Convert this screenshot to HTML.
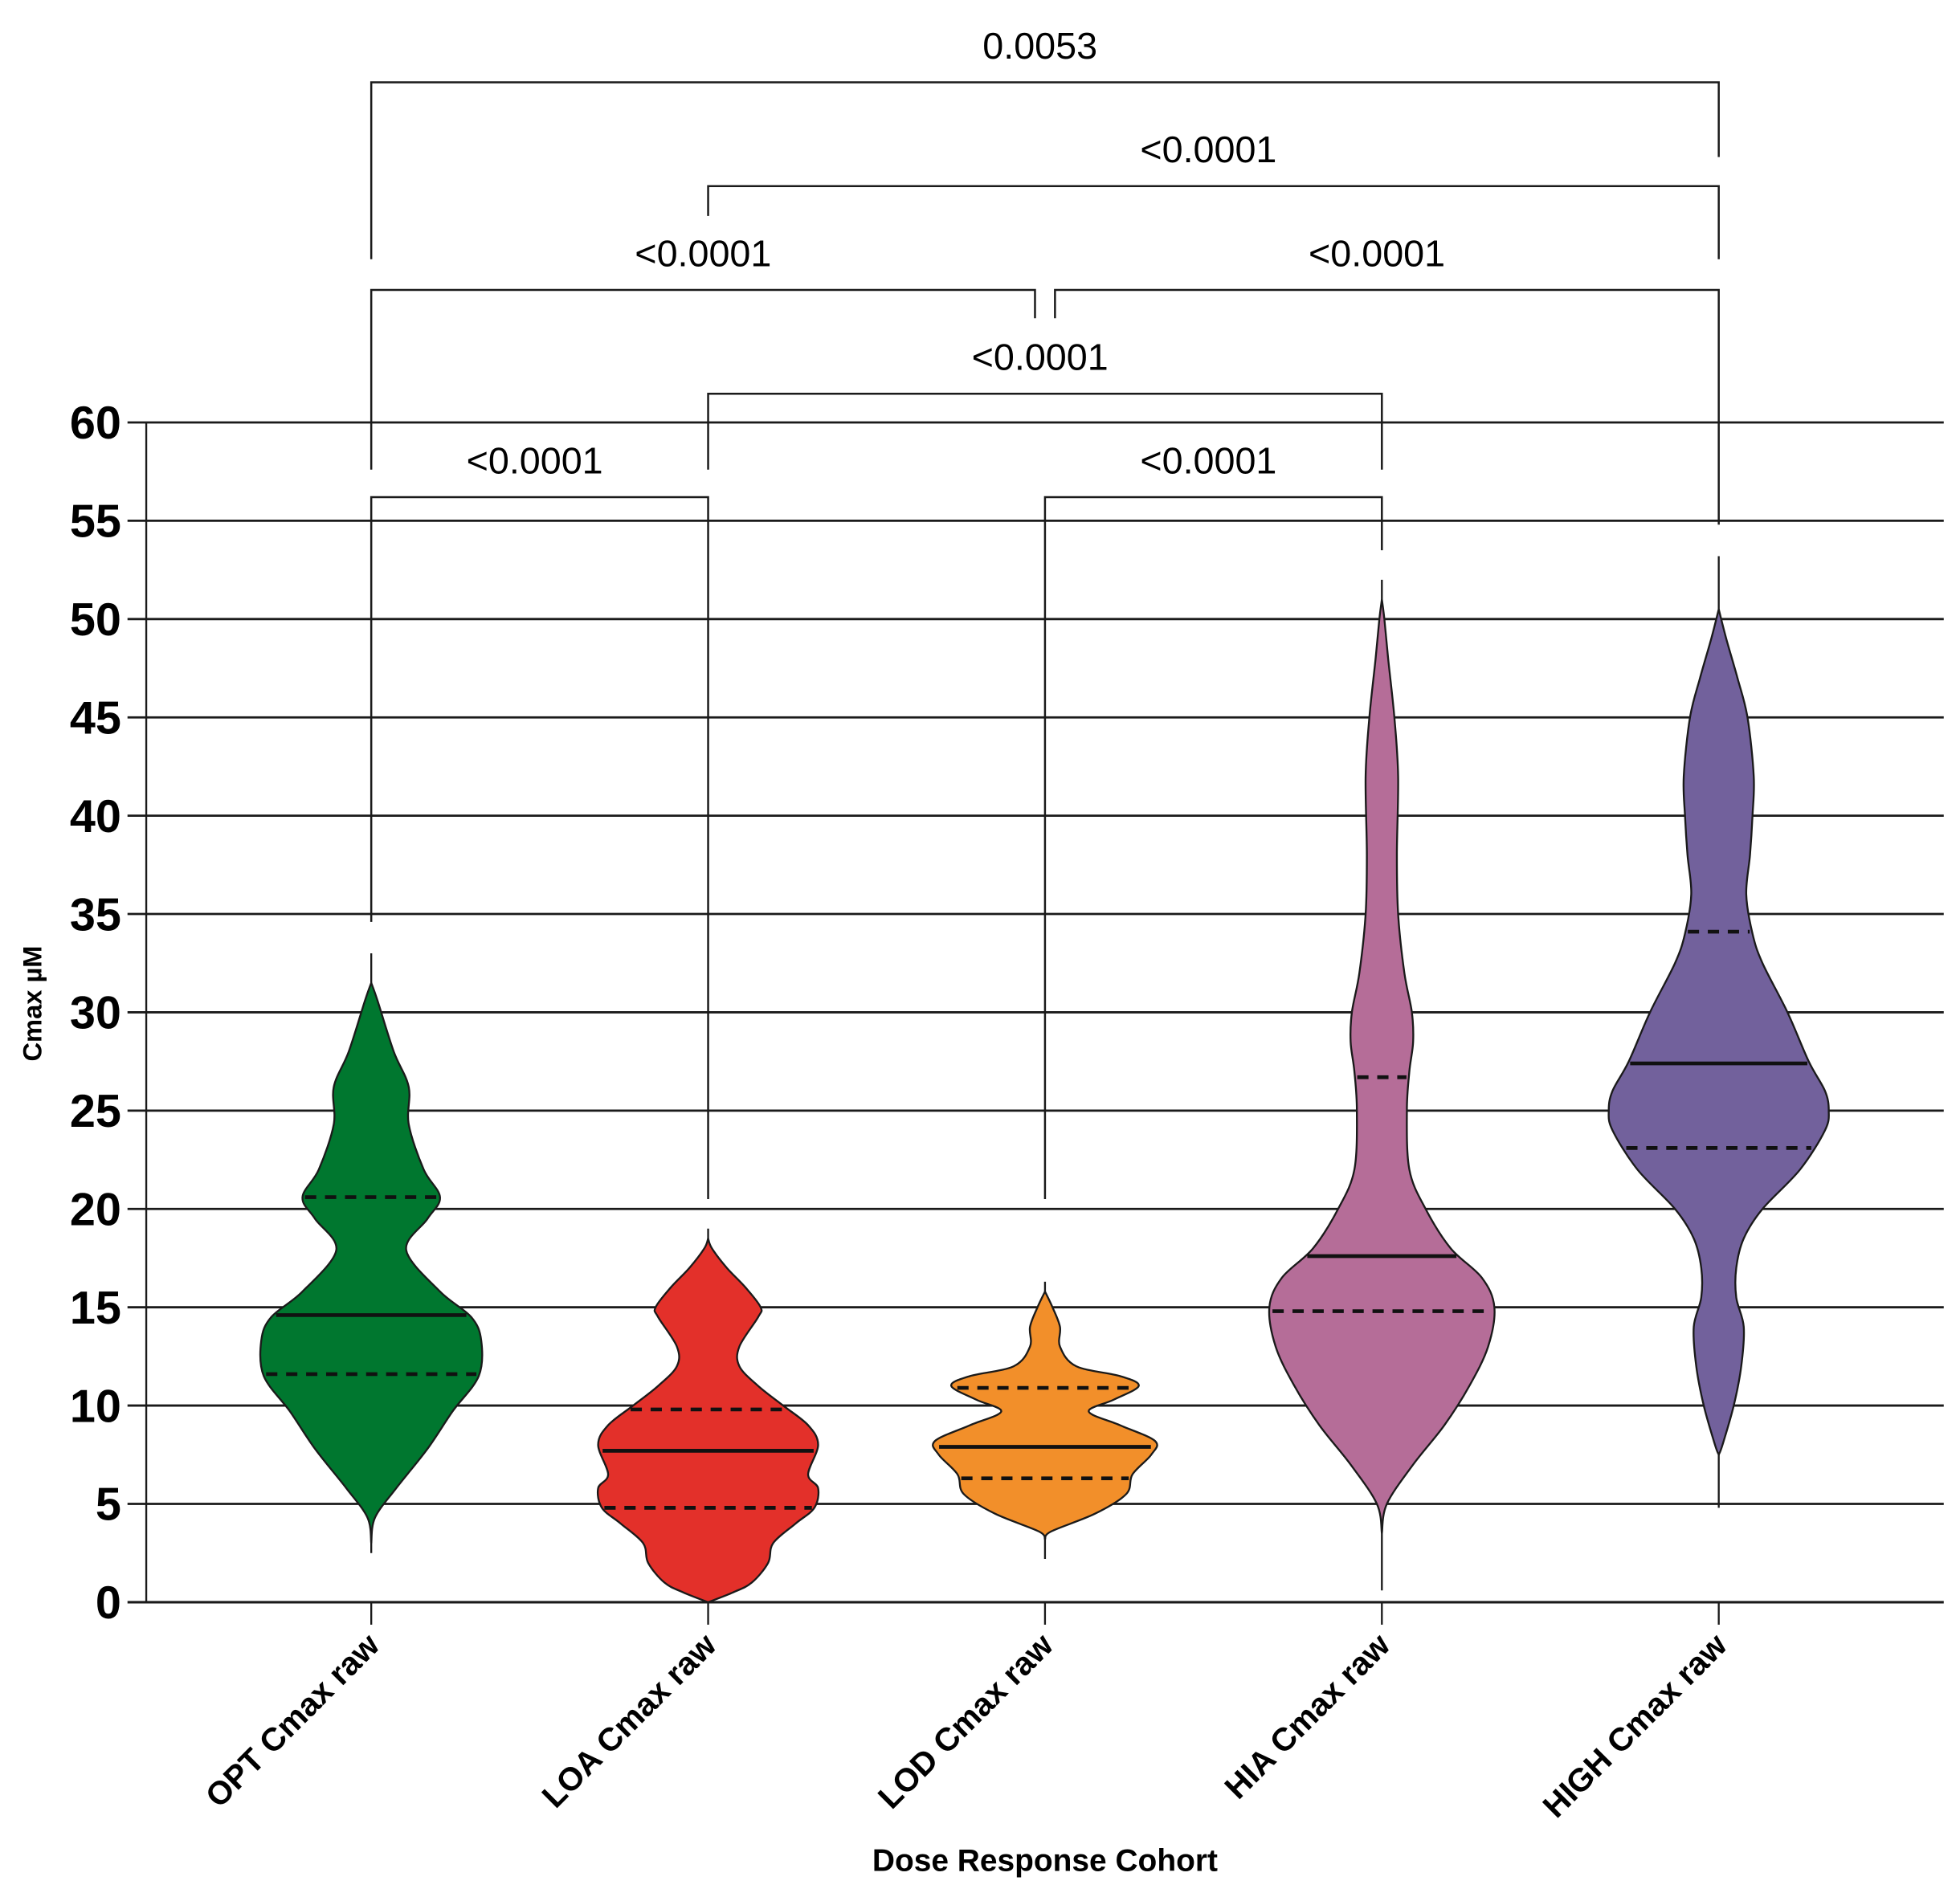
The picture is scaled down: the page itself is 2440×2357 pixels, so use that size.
<!DOCTYPE html>
<html><head><meta charset="utf-8"><style>
html,body{margin:0;padding:0;background:#fff;}
svg{display:block;}
text{font-family:"Liberation Sans",Arial,sans-serif;}
</style></head><body>
<svg id="chart" width="2440" height="2357" viewBox="0 0 1568 1514.7" preserveAspectRatio="none" xmlns="http://www.w3.org/2000/svg">
<g id="grid"></g>
<g id="violins"></g>
<g id="brackets"></g>
<g id="axes"></g>
<text x="0" y="0" transform="translate(33,803) rotate(-90)" text-anchor="middle" font-size="21" font-weight="bold">Cmax µM</text>
<text x="836" y="1497" text-anchor="middle" font-size="25" font-weight="bold">Dose Response Cohort</text>
</svg>
<script>
const categories = ["OPT Cmax raw","LOA Cmax raw","LOD Cmax raw","HIA Cmax raw","HIGH Cmax raw"];
const colors = ["#00772f","#e3302a","#f28f2a","#b56d98","#72619c"];
const yTicks = [0,5,10,15,20,25,30,35,40,45,50,55,60];
const medians = [14.6, 7.7, 7.9, 17.6, 27.4];
const q1 = [11.6, 4.8, 6.3, 14.8, 23.1];
const q3 = [20.6, 9.8, 10.9, 26.7, 34.1];
const mins = [2.5, 0, 2.2, 0.6, 4.8];
const maxs = [33, 19, 16.3, 52, 53.2];
// density profiles: [value, half-width]
const densOPT = [[3,0],[4.3,3],[5.8,20],[7.8,45],[9.7,65],[11.5,86],[13.3,88],[14.5,80],[15.8,55],[17.9,28],[19.5,45],[20.6,55],[22,42],[24.3,30],[26.2,30],[28,18],[30.6,5],[31.5,0]];
const densLOA = [[0,0],[0.5,20],[1,35],[2,48],[3,52],[4,70],[4.8,85],[5.8,88],[6.5,80],[8,88],[9,80],[10,60],[11,40],[12,25],[13,25],[14.5,40],[15,42],[16,30],[17,15],[18,3],[18.5,0]];
const densLOD = [[3.2,0],[3.6,5],[4.5,40],[5.5,65],[6.5,70],[7.5,85],[8.2,88],[9,60],[9.7,35],[10.3,55],[11,75],[11.5,60],[12,25],[13,12],[14,12],[15,6],[15.8,0]];
const densHIA = [[3.5,0],[5,4],[7,25],[9,50],[11,70],[13,85],[15,90],[16.5,80],[18,55],[20,35],[22,22],[25,20],[27,22],[28.5,25],[30,24],[32,18],[35,13],[38,12],[42,13],[45,10],[48,5],[50,2],[51,0]];
const densHIGH = [[7.5,0],[8,3],[10,12],[12,18],[14,20],[15.5,14],[17,14],[18.5,20],[20,35],[22,65],[24,85],[25,88],[26,85],[27.5,72],[30,55],[32.5,35],[34,27],[36,22],[38,25],[40,27],[42,28],[45,23],[47,15],[49,6],[50.5,0]];
const densities = [densOPT, densLOA, densLOD, densHIA, densHIGH];
const bracketLabels = ["<0.0001","<0.0001","<0.0001","<0.0001","<0.0001","<0.0001","0.0053"];
const bracketPairs = [[0,1],[2,3],[1,3],[0,2],[2,4],[1,4],[0,4]];
const bracketTops = [56.2, 56.2, 61.46, 66.74, 66.74, 72.02, 77.3];
const bracketLeftBottoms = [34.6, 20.5, 57.6, 57.6, 65.3, 70.5, 68.3];
const bracketRightBottoms = [20.5, 53.5, 57.6, 65.3, 54.8, 68.3, 73.5];
const bracketOffsets = [[0,0],[0,0],[0,0],[0,-8],[8,0],[0,0],[0,0]];

const NS="http://www.w3.org/2000/svg";
const X0=117, XR=1555, Y0=1282, PXU=15.733;
const catX = i => 297 + i*269.5;
const yScale = v => Y0 - v*PXU;
function mk(tag, attrs, parent){const e=document.createElementNS(NS,tag);for(const k in attrs)e.setAttribute(k,attrs[k]);parent.appendChild(e);return e;}
const grid=document.getElementById('grid'), vg=document.getElementById('violins'), bg=document.getElementById('brackets'), ax=document.getElementById('axes');

yTicks.forEach(t=>{
  const l=mk('line',{x1:102,x2:XR,y1:yScale(t),y2:yScale(t),stroke:'#1a1a1a','stroke-width':t===0?2:1.8},grid);
  
  
  const tx=mk('text',{x:97,y:yScale(t)+13,'text-anchor':'end','font-size':37,'font-weight':'bold'},ax);
  tx.textContent=t;
  
  
});
const yl=mk('line',{x1:X0,x2:X0,y1:yScale(60),y2:Y0,stroke:'#1a1a1a','stroke-width':1.5},ax);



function interp(d,v){
  if(v<=d[0][0]) return d[0][1];
  for(let i=1;i<d.length;i++){ if(v<=d[i][0]){const a=d[i-1],b=d[i];return a[1]+(b[1]-a[1])*(v-a[0])/(b[0]-a[0]);} }
  return d[d.length-1][1];
}
function smoothPath(pts){
  let s='M'+pts[0][0]+','+pts[0][1];
  for(let i=0;i<pts.length-1;i++){
    const p0=pts[Math.max(0,i-1)],p1=pts[i],p2=pts[i+1],p3=pts[Math.min(pts.length-1,i+2)];
    const c1=[p1[0]+(p2[0]-p0[0])/6,p1[1]+(p2[1]-p0[1])/6];
    const c2=[p2[0]-(p3[0]-p1[0])/6,p2[1]-(p3[1]-p1[1])/6];
    s+=' C'+c1[0]+','+c1[1]+' '+c2[0]+','+c2[1]+' '+p2[0]+','+p2[1];
  }
  return s;
}
categories.forEach((c,i)=>{
  const cx=catX(i), d=densities[i];
  const tail=mk('line',{x1:cx,x2:cx,y1:yScale(mins[i]),y2:yScale(maxs[i]),stroke:'#1a1a1a','stroke-width':1.5},vg);
  
  
  const right=d.map(p=>[cx+p[1],yScale(p[0])]);
  const left=d.slice().reverse().map(p=>[cx-p[1],yScale(p[0])]);
  const path=smoothPath(right)+' '+smoothPath(left).replace('M','L')+' Z';
  const v=mk('path',{d:path,fill:colors[i],stroke:'#1a1a1a','stroke-width':1.5},vg);
  
  
  [[medians[i],'median',''],[q1[i],'q1','9,7'],[q3[i],'q3','9,7']].forEach(([val,nm,dash])=>{
    const hw=interp(d,val);
    const l=mk('line',{x1:cx-hw+2,x2:cx+hw-2,y1:yScale(val),y2:yScale(val),stroke:'#111','stroke-width':3},vg);
    if(dash) l.setAttribute('stroke-dasharray',dash);
    
    
  });
  const tk=mk('line',{x1:cx,x2:cx,y1:Y0,y2:Y0+18,stroke:'#1a1a1a','stroke-width':1.5},ax);
  
  
  const lb=mk('text',{x:0,y:0,transform:'translate('+(cx+8)+',1318) rotate(-45)','text-anchor':'end','font-size':26,'font-weight':'bold'},ax);
  lb.textContent=c;
  
  
});
bracketPairs.forEach((p,k)=>{
  const xa=catX(p[0])+bracketOffsets[k][0], xb=catX(p[1])+bracketOffsets[k][1];
  const yt=yScale(bracketTops[k]);
  const pl=mk('polyline',{points:xa+','+yScale(bracketLeftBottoms[k])+' '+xa+','+yt+' '+xb+','+yt+' '+xb+','+yScale(bracketRightBottoms[k]),fill:'none',stroke:'#1a1a1a','stroke-width':1.6},bg);
  
  
  const t=mk('text',{x:(catX(p[0])+catX(p[1]))/2-4,y:yt-19,'text-anchor':'middle','font-size':30},bg);
  t.textContent=bracketLabels[k];
  
  
});
</script>
</body></html>
